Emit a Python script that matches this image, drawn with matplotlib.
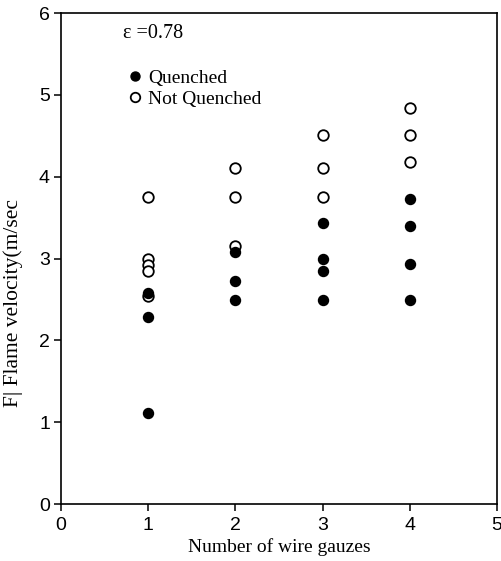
import matplotlib
matplotlib.use('Agg')
import matplotlib.pyplot as plt

# Quenched (filled) and not quenched (open) flame velocities, m/sec
quenched_x = [1, 1, 1, 2, 2, 2, 3, 3, 3, 3, 4, 4, 4, 4]
quenched_v = [2.58, 2.28, 1.11, 3.08, 2.72, 2.49, 3.43, 2.99, 2.85, 2.49,
              3.73, 3.40, 2.93, 2.49]
open_x = [1, 1, 1, 1, 1, 2, 2, 2, 3, 3, 3, 4, 4, 4]
open_v = [3.75, 2.99, 2.92, 2.85, 2.54, 4.10, 3.75, 3.15, 4.51, 4.10, 3.75,
          4.84, 4.51, 4.18]

x_ticks = [0, 1, 2, 3, 4, 5]
y_ticks = [0, 1, 2, 3, 4, 5, 6]

serif = 'Liberation Serif'
sans = 'Liberation Sans'

fig = plt.figure(figsize=(5.01, 5.61), dpi=100)
ax = fig.add_axes([0.1218, 0.1016, 0.8702, 0.8752])

ax.plot(quenched_x, quenched_v, 'o', color='black', markersize=7.2,
        linestyle='none', label='Quenched', zorder=4)
ax.plot(open_x, open_v, 'o', markerfacecolor='white', markeredgecolor='black',
        markeredgewidth=1.3, markersize=7.6, linestyle='none',
        label='Not Quenched', zorder=3)

ax.set_xlim(0, 5)
ax.set_ylim(0, 6)
ax.set_xticks(x_ticks)
ax.set_yticks(y_ticks)
for lbl in ax.get_xticklabels() + ax.get_yticklabels():
    lbl.set_fontfamily(sans)
    lbl.set_fontsize(14)
ax.tick_params(direction='out', length=5, width=1.1, pad=3)
ax.tick_params(axis='x', pad=4)
for sp in ax.spines.values():
    sp.set_linewidth(1.2)

ax.set_xlabel('Number of wire gauzes', fontfamily=serif, fontsize=14, labelpad=3)
ax.set_ylabel('F| Flame velocity(m/sec', fontfamily=serif, fontsize=15.5)
ax.yaxis.set_label_coords(-0.088, 0.409)

ax.text(0.142, 0.959, '\u03b5 =0.78', transform=ax.transAxes, fontfamily=serif,
        fontsize=14.5, va='center', ha='left')

leg = ax.legend(loc='upper left', bbox_to_anchor=(0.147, 0.886),
                frameon=False, borderaxespad=0, borderpad=0,
                handlelength=1.0, handletextpad=0.2, labelspacing=0.2,
                markerscale=0.9, prop={'family': serif, 'size': 14})

fig.savefig('out.png', dpi=100)
